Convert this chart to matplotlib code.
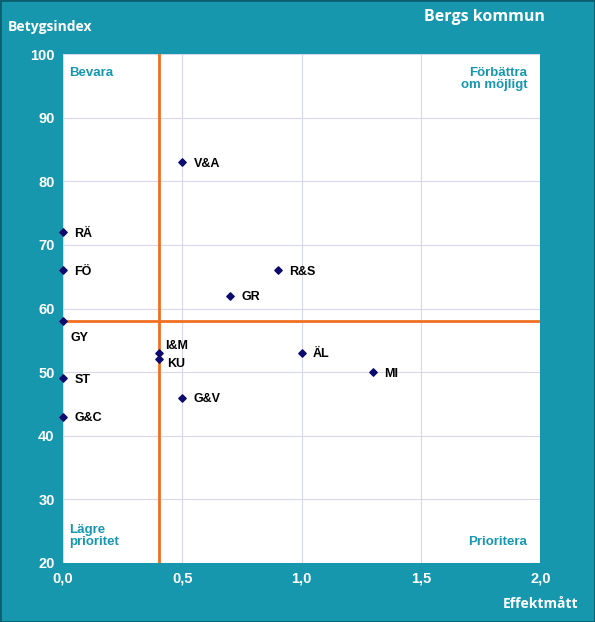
import matplotlib.pyplot as plt
from matplotlib.patches import Rectangle

# Data
labels = ["V&A", "RÄ", "FÖ", "R&S", "GR", "GY", "I&M", "KU", "ÄL", "MI", "ST", "G&V", "G&C"]
effekt = [0.5, 0.0, 0.0, 0.9, 0.7, 0.0, 0.4, 0.4, 1.0, 1.3, 0.0, 0.5, 0.0]
betyg = [83, 72, 66, 66, 62, 58, 53, 52, 53, 50, 49, 46, 43]
x_split = 0.4
y_split = 58

teal = "#1697ae"
orange = "#f07022"
navy = "#0b0b6e"

fig = plt.figure(figsize=(5.95, 6.22), dpi=100, facecolor=teal)
ax = fig.add_axes([0.106, 0.095, 0.802, 0.818])
ax.set_facecolor("white")

ax.set_xlim(0, 2.0)
ax.set_ylim(20, 100)
ax.set_xticks([0, 0.5, 1.0, 1.5, 2.0])
ax.set_xticklabels(["0,0", "0,5", "1,0", "1,5", "2,0"])
ax.set_yticks(range(20, 101, 10))
ax.grid(True, color="#d8d8ec", linewidth=0.8)
ax.set_axisbelow(True)
for s in ax.spines.values():
    s.set_visible(False)
ax.tick_params(length=0, colors="white", labelsize=10.5, pad=6)
for t in ax.get_xticklabels() + ax.get_yticklabels():
    t.set_fontweight("bold")
    t.set_family("Liberation Sans")

# Quadrant lines
ax.axvline(x_split, color=orange, linewidth=2, zorder=2)
ax.axhline(y_split, color=orange, linewidth=2, zorder=2)

ax.scatter(effekt, betyg, marker="D", s=14, color=navy, zorder=3, clip_on=False)

offsets = {"GY": (5, -12), "I&M": (5, 5), "KU": (6, -3)}
for lab, x, y in zip(labels, effekt, betyg):
    dx, dy = offsets.get(lab, (8, -1))
    ax.annotate(lab, (x, y), xytext=(dx, dy), textcoords="offset points",
                ha="left", va="center", fontsize=9, fontweight="bold",
                family="Liberation Sans", color="black", zorder=4)

# Quadrant captions
qkw = dict(color=teal, fontsize=9.5, fontweight="bold", family="Liberation Sans",
           transform=ax.transAxes)
ax.text(0.013, 0.975, "Bevara", ha="left", va="top", **qkw)
ax.text(0.973, 0.975, "Förbättra\nom möjligt", ha="right", va="top", linespacing=1.0, **qkw)
ax.text(0.013, 0.03, "Lägre\nprioritet", ha="left", va="bottom", linespacing=1.0, **qkw)
ax.text(0.973, 0.03, "Prioritera", ha="right", va="bottom", **qkw)

fig.text(0.815, 0.973, "Bergs kommun", color="white", fontsize=11.5, fontweight="bold",
         family="Open Sans", ha="center", va="center")
fig.text(0.013, 0.956, "Betygsindex", color="white", fontsize=10, fontweight="bold",
         family="Open Sans", ha="left", va="center")
fig.text(0.972, 0.029, "Effektmått", color="white", fontsize=10, fontweight="bold",
         family="Open Sans", ha="right", va="center")

fig.patches.append(Rectangle((0, 0), 1, 1, transform=fig.transFigure, fill=False,
                             edgecolor="#0d5e6e", linewidth=2))

fig.savefig("out.png", dpi=100, facecolor=teal)
